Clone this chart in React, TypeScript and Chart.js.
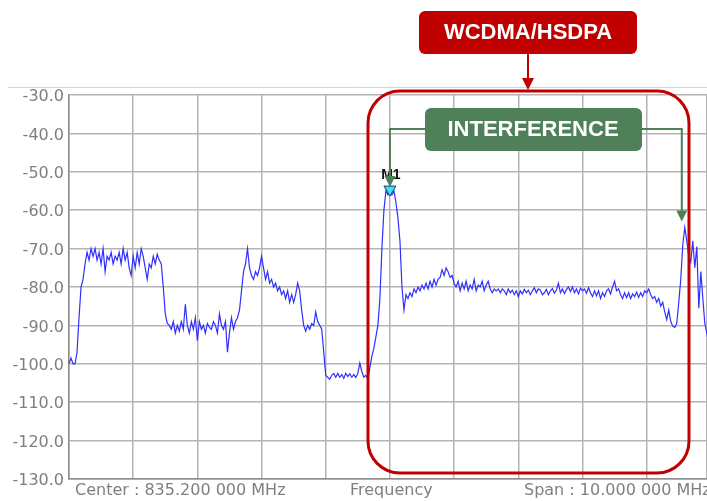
import React, { useEffect, useRef } from "react";
import { Chart, registerables } from "chart.js";

Chart.register(...registerables);

// ---- data ----
const POINTS_PER_DIV = 32; // trace points per horizontal division
const X_VISIBLE_DIVS = 9.94; // screenshot is cropped just before the 10th division
const Y_MIN = -130;
const Y_MAX = -30;
const Y_STEP = 10;

const LEVELS_DBM = [
  -100, -98.5, -100, -100, -97, -88, -80, -78, -74, -71,
  -73, -70, -72, -70, -73, -71, -74, -70, -76, -72,
  -73, -71, -74, -72, -73, -71, -74, -70, -73, -71,
  -75, -77, -72, -75, -71, -74, -70, -72, -75, -78,
  -74, -75, -72, -74, -71.5, -73, -74, -80, -87, -89.5,
  -90, -91, -89, -92, -90, -91.5, -89, -91, -84.5, -90,
  -92, -89, -91, -88, -94, -89, -91, -90, -92, -89.5,
  -90.5, -91, -89, -90, -92, -87, -90, -91, -89, -97,
  -92, -88, -91, -89, -88, -86, -81, -76, -74, -70,
  -75, -77, -78, -76, -77, -75, -72, -75, -78, -76,
  -79, -78, -80, -79, -81, -80, -82, -81, -83, -81,
  -84, -82, -84, -82, -79, -81, -86, -90, -91.5, -90,
  -91, -89.5, -90, -86.5, -89, -90, -91, -97, -103, -103.5,
  -104, -103, -102.5, -103.5, -102.5, -103.5, -102.8, -103.8, -102.5, -103.3,
  -102.6, -103.5, -102.8, -103.6, -102.5, -99.8, -102, -103.5, -103, -104,
  -101, -98, -96, -93, -90, -83, -70, -60, -55, -56,
  -54.5, -56, -55, -58, -62, -68, -80, -86, -82, -83,
  -81.5, -82.5, -80.5, -81.5, -80, -81, -79.5, -80.5, -79, -80.5,
  -78.5, -80, -78, -79.5, -78, -77.5, -75.5, -77, -75, -76,
  -77.5, -77, -79, -80, -78.5, -81, -79, -80.5, -78.5, -81,
  -79.5, -80.5, -78, -81, -79.5, -80, -78.5, -81, -79.5, -78.5,
  -80.5, -81.5, -80.5, -81, -80.5, -81.5, -80.5, -81, -82, -80.5,
  -81.5, -80.8, -82, -81, -82.5, -81, -81.8, -80.6, -81.5, -80.8,
  -82, -81, -80.2, -81.5, -80.5, -80.8, -82, -81.5, -80.6, -82,
  -81, -80.4, -81.6, -80.8, -79, -81.5, -80.5, -81.7, -80.7, -80,
  -81.2, -80, -81.5, -80.5, -81.8, -80.3, -81, -80.5, -81.6, -80.2,
  -81.5, -82.5, -81, -82.3, -81, -83, -81.5, -82.5, -81, -80.5,
  -81.8, -80, -78.5, -81, -80.5, -82, -83, -81.5, -82.8, -81.5,
  -83, -81.8, -82.5, -81.3, -82.7, -81.5, -82.5, -81, -81.5, -80.5,
  -82, -83, -82.5, -84, -83, -85, -84, -86.5, -88.5, -86,
  -89, -90.2, -90.5, -89.5, -84, -78, -69, -64.5, -68, -72,
  -73.5, -68, -75, -69.5, -85.5, -76, -83, -89.5, -92, -95,
];

const MARKER_INDEX = 160; // M1 at centre frequency
const INTERFERENCE_INDEX = 307;

const BOTTOM_LABELS = ["Center : 835.200 000 MHz", "Frequency", "Span : 10.000 000 MHz"];
const MARKER_LABEL = "M1";
const BAND_LABEL = "WCDMA/HSDPA";
const INTERFERENCE_LABEL = "INTERFERENCE";

// ---- styles ----
const RED = "#c00000";
const GREEN = "#50805a";
const GREEN_LINE = "#4f7f57";
const TRACE = "#2f2fff";
const LABEL_GRAY = "#7f7f7f";

function roundRect(ctx: CanvasRenderingContext2D, x: number, y: number, w: number, h: number, r: number) {
  ctx.beginPath();
  ctx.moveTo(x + r, y);
  ctx.lineTo(x + w - r, y);
  ctx.arcTo(x + w, y, x + w, y + r, r);
  ctx.lineTo(x + w, y + h - r);
  ctx.arcTo(x + w, y + h, x + w - r, y + h, r);
  ctx.lineTo(x + r, y + h);
  ctx.arcTo(x, y + h, x, y + h - r, r);
  ctx.lineTo(x, y + r);
  ctx.arcTo(x, y, x + r, y, r);
  ctx.closePath();
}

function arrowHead(ctx: CanvasRenderingContext2D, x: number, tipY: number, half: number, len: number, color: string) {
  ctx.fillStyle = color;
  ctx.beginPath();
  ctx.moveTo(x, tipY);
  ctx.lineTo(x - half, tipY - len);
  ctx.lineTo(x + half, tipY - len);
  ctx.closePath();
  ctx.fill();
}

const overlayPlugin = {
  id: "overlay",
  afterDraw(chart: any) {
    const ctx: CanvasRenderingContext2D = chart.ctx;
    const xs = chart.scales.x;
    const ys = chart.scales.y;
    ctx.save();

    // thin separator line above the plot
    ctx.strokeStyle = "#d4d4d4";
    ctx.lineWidth = 1;
    ctx.beginPath();
    ctx.moveTo(8, 87.5);
    ctx.lineTo(707, 87.5);
    ctx.stroke();

    // bottom labels
    ctx.fillStyle = LABEL_GRAY;
    ctx.font = "16px 'DejaVu Sans'";
    ctx.textBaseline = "middle";
    ctx.textAlign = "left";
    ctx.fillText(BOTTOM_LABELS[0], 75, 491);
    ctx.fillText(BOTTOM_LABELS[1], 350, 491);
    ctx.fillText(BOTTOM_LABELS[2], 524, 491);

    // big red rounded region
    ctx.strokeStyle = RED;
    ctx.lineWidth = 3;
    roundRect(ctx, 368, 91, 321, 382, 32);
    ctx.stroke();

    // red label box + arrow
    ctx.fillStyle = RED;
    roundRect(ctx, 419, 11, 218, 43, 6);
    ctx.fill();
    ctx.strokeStyle = RED;
    ctx.lineWidth = 2;
    ctx.beginPath();
    ctx.moveTo(528, 54);
    ctx.lineTo(528, 80);
    ctx.stroke();
    arrowHead(ctx, 528, 90, 6, 12, RED);
    ctx.fillStyle = "#ffffff";
    ctx.font = "bold 22px 'Liberation Sans'";
    ctx.textAlign = "center";
    ctx.textBaseline = "middle";
    ctx.fillText(BAND_LABEL, 528, 33);

    // marker M1
    const mx = xs.getPixelForValue(MARKER_INDEX / POINTS_PER_DIV);
    const my = ys.getPixelForValue(LEVELS_DBM[MARKER_INDEX]);
    ctx.fillStyle = "#111111";
    ctx.font = "bold 14px 'Liberation Sans'";
    ctx.fillText(MARKER_LABEL, mx + 1, my - 14);
    ctx.fillStyle = "#3ee6f2";
    ctx.strokeStyle = "#1a3a6a";
    ctx.lineWidth = 1;
    ctx.beginPath();
    ctx.moveTo(mx - 6, my - 3);
    ctx.lineTo(mx + 6, my - 3);
    ctx.lineTo(mx, my + 7);
    ctx.closePath();
    ctx.fill();
    ctx.stroke();

    // green connectors
    const ix = xs.getPixelForValue(INTERFERENCE_INDEX / POINTS_PER_DIV) - 3;
    const iy = ys.getPixelForValue(LEVELS_DBM[INTERFERENCE_INDEX]);
    ctx.strokeStyle = GREEN_LINE;
    ctx.lineWidth = 2;
    ctx.beginPath();
    ctx.moveTo(426, 129);
    ctx.lineTo(mx, 129);
    ctx.lineTo(mx, my - 12);
    ctx.stroke();
    arrowHead(ctx, mx, my - 2, 5.5, 11, GREEN_LINE);
    ctx.beginPath();
    ctx.moveTo(641, 129);
    ctx.lineTo(ix, 129);
    ctx.lineTo(ix, iy - 16);
    ctx.stroke();
    arrowHead(ctx, ix, iy - 6, 5.5, 11, GREEN_LINE);

    // green label box
    ctx.fillStyle = GREEN;
    roundRect(ctx, 425, 108, 217, 43, 6);
    ctx.fill();
    ctx.fillStyle = "#ffffff";
    ctx.font = "bold 22px 'Liberation Sans'";
    ctx.textAlign = "center";
    ctx.fillText(INTERFERENCE_LABEL, 533, 130);

    ctx.restore();
  },
};

export default function App() {
  const canvasRef = useRef<HTMLCanvasElement | null>(null);

  useEffect(() => {
    if (!canvasRef.current) return;
    const data = LEVELS_DBM.map((v, i) => ({ x: i / POINTS_PER_DIV, y: v }));
    const chart = new Chart(canvasRef.current, {
      type: "line",
      data: {
        datasets: [
          {
            data,
            borderColor: TRACE,
            borderWidth: 1.2,
            pointRadius: 0,
            tension: 0,
            fill: false,
          },
        ],
      },
      options: {
        animation: false,
        responsive: false,
        maintainAspectRatio: false,
        layout: { padding: { left: 0, top: 95, right: 0, bottom: 0 } },
        plugins: { legend: { display: false }, tooltip: { enabled: false } },
        scales: {
          x: {
            type: "linear",
            min: 0,
            max: X_VISIBLE_DIVS,
            ticks: { stepSize: 1, display: false },
            grid: { color: "#b4b4b4", lineWidth: 1.5, drawTicks: false },
            border: { color: "#8c8c8c", width: 1.5 },
            afterFit: (s: any) => {
              s.height = 22;
            },
          },
          y: {
            min: Y_MIN,
            max: Y_MAX,
            ticks: {
              stepSize: Y_STEP,
              color: LABEL_GRAY,
              font: { family: "'DejaVu Sans'", size: 16 },
              padding: 5,
              labelOffset: 2,
              callback: (v: any) => Number(v).toFixed(1),
            },
            grid: { color: "#b4b4b4", lineWidth: 1.5, drawTicks: false },
            border: { color: "#8c8c8c", width: 1.5 },
            afterFit: (s: any) => {
              s.width = 69;
            },
          },
        },
      },
      plugins: [overlayPlugin],
    });
    return () => chart.destroy();
  }, []);

  return (
    <div style={{ position: "fixed", left: 0, top: 0, width: 707, height: 501, background: "#ffffff" }}>
      <canvas ref={canvasRef} width={707} height={501} style={{ width: 707, height: 501 }} />
    </div>
  );
}
